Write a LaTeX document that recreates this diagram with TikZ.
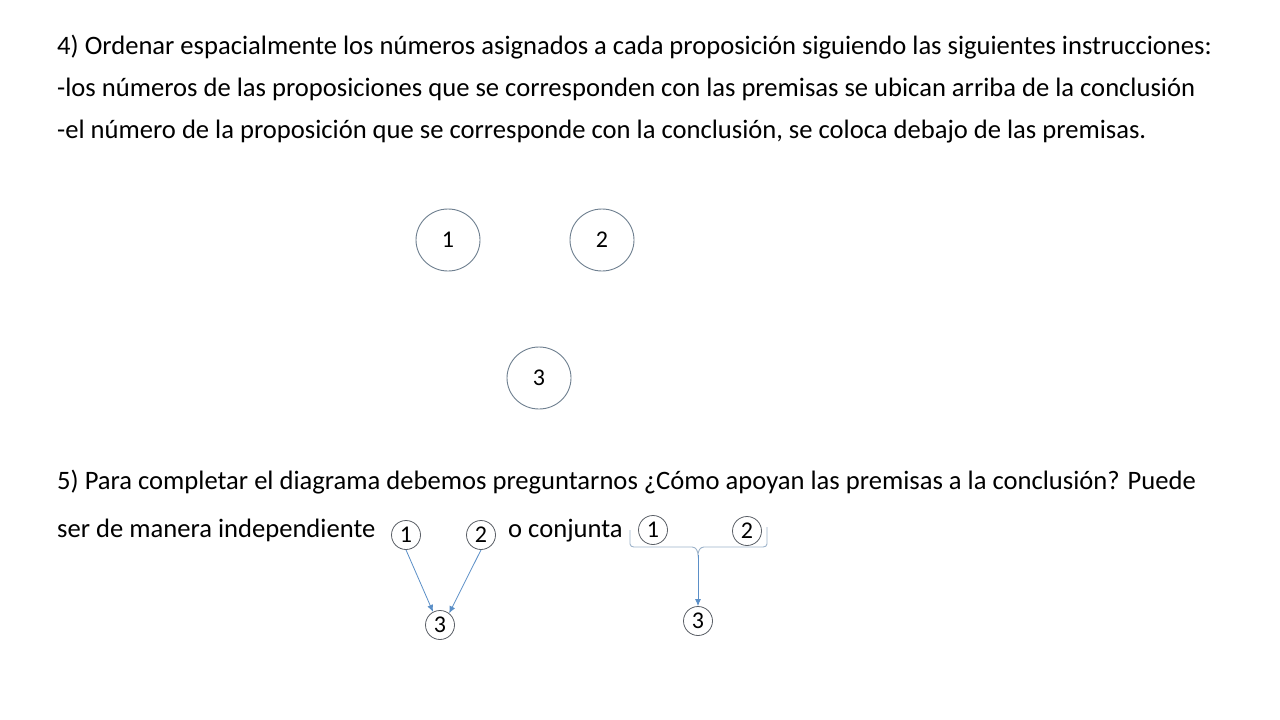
\documentclass[tikz,border=0pt]{standalone}
\usepackage{fontspec}
\setmainfont{Carlito}
\usetikzlibrary{arrows.meta,shapes.geometric}
\definecolor{ringgray}{HTML}{6E7F8F}
\definecolor{smallgray}{HTML}{5A5F66}
\definecolor{arrowblue}{HTML}{5B8FC7}
\definecolor{bracegray}{HTML}{9DB3CA}
\begin{document}
\begin{tikzpicture}[x=1pt,y=-1pt,
  txt/.style={anchor=base west,inner sep=0pt,font=\fontsize{26.6}{32}\selectfont},
  bigring/.style={draw=ringgray,line width=0.9pt,ellipse,minimum width=64pt,minimum height=62pt,inner sep=0pt,font=\fontsize{24}{28}\selectfont},
  smallring/.style={draw=smallgray,line width=0.8pt,circle,minimum size=29pt,inner sep=0pt,font=\fontsize{24}{28}\selectfont},
  flow/.style={draw=arrowblue,line width=0.8pt,-{Latex[length=7pt,width=6pt]}}]
\useasboundingbox (0,0) rectangle (1280,720);
\fill[white] (0,0) rectangle (1280,720);
\node[txt] (t1) at (57,54) {4) Ordenar espacialmente los números asignados a cada proposición siguiendo las siguientes instrucciones:};
\node[txt] (t2) at (57,96) {-los números de las proposiciones que se corresponden con las premisas se ubican arriba de la conclusión};
\node[txt] (t3) at (57,138) {-el número de la proposición que se corresponde con la conclusión, se coloca debajo de las premisas.};
\node[txt] (t5) at (57,489) {5) Para completar el diagrama debemos preguntarnos ¿Cómo apoyan las premisas a la conclusión? Puede};
\node[txt] (t6) at (57,537) {ser de manera independiente};
\node[txt] (t7) at (508,537) {o conjunta};
% big circles
\node[bigring] (b1) at (448,240) {1};
\node[bigring] (b2) at (602,240) {2};
\node[bigring] (b3) at (539,378) {3};
% independent
\node[smallring] (i1) at (406,535) {1};
\node[smallring] (i2) at (481,535) {2};
\node[smallring] (i3) at (440,625) {3};
\draw[flow] (i1.south) -- (i3.118);
\draw[flow] (i2.south) -- (i3.52);
% joint
\node[smallring] (j1) at (653,530) {1};
\node[smallring] (j2) at (747,531) {2};
\node[smallring] (j3) at (698,621) {3};
\coordinate (bl) at (630,530);
\coordinate (br) at (767,527);
\coordinate (bm) at (698,555);
\draw[bracegray,line width=0.9pt] (bl) -- (630,544) to[out=-90,in=180] (634,547) -- (692,547) to[out=0,in=90] (bm) to[out=90,in=180] (704,547) -- (763,547) to[out=0,in=-90] (767,544) -- (br);
\draw[flow] (bm) -- (j3.north);
\end{tikzpicture}
\end{document}
